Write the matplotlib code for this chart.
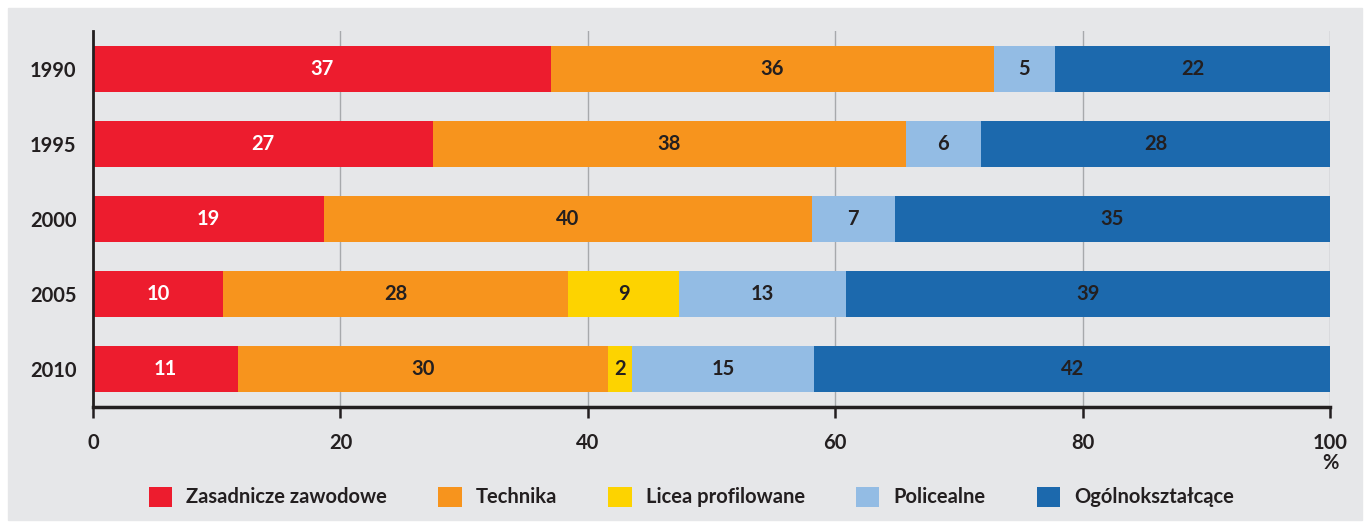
import matplotlib.pyplot as plt
from matplotlib.patches import Rectangle, Patch
import numpy as np

# years on the y axis
years = ["1990", "1995", "2000", "2005", "2010"]

# segment widths (percent)
zasadnicze = [37.0, 27.5, 18.7, 10.5, 11.7]
technika = [35.8, 38.2, 39.4, 27.9, 29.9]
licea = [0.0, 0.0, 0.0, 9.0, 2.0]
policealne = [5.0, 6.1, 6.7, 13.5, 14.7]
ogolno = [22.2, 28.2, 35.2, 39.1, 41.7]

# labels as printed on the bars
zasadnicze_lbl = ["37", "27", "19", "10", "11"]
technika_lbl = ["36", "38", "40", "28", "30"]
licea_lbl = ["", "", "", "9", "2"]
policealne_lbl = ["5", "6", "7", "13", "15"]
ogolno_lbl = ["22", "28", "35", "39", "42"]

series_names = ["Zasadnicze zawodowe", "Technika", "Licea profilowane",
                "Policealne", "Ogólnokształcące"]
colors = ["#ED1C2E", "#F7941D", "#FDD300", "#93BCE4", "#1C69AD"]
text_colors = ["white", "#231F20", "#231F20", "#231F20", "#231F20"]

BG = "#E6E7E9"
DARK = "#231F20"
FS = 14.5

plt.rcParams["font.family"] = ["Lato", "DejaVu Sans"]
plt.rcParams["font.weight"] = "bold"

fig = plt.figure(figsize=(13.7, 5.24), dpi=100)
# grey panel behind the whole chart
fig.patches.append(Rectangle((8 / 1370, 4 / 524), 1354 / 1370, 512 / 524,
                             transform=fig.transFigure, color=BG, zorder=-10))

ax = fig.add_axes([93 / 1370, 1 - 407 / 524, 1237 / 1370, 376 / 524])
ax.set_facecolor(BG)

y = np.arange(len(years))
values = [zasadnicze, technika, licea, policealne, ogolno]
labels = [zasadnicze_lbl, technika_lbl, licea_lbl, policealne_lbl, ogolno_lbl]

left = np.zeros(len(years))
for vals, lbls, col, tcol, name in zip(values, labels, colors, text_colors, series_names):
    vals = np.array(vals)
    ax.barh(y, vals, left=left, height=0.61, color=col, label=name, zorder=3)
    for yi, (l, v, t) in enumerate(zip(left, vals, lbls)):
        if t:
            ax.text(l + v / 2, yi, t, ha="center", va="center",
                    color=tcol, fontsize=FS, fontweight="bold", zorder=4)
    left += vals

ax.set_xlim(0, 100)
ax.set_ylim(4.5, -0.5)
ax.set_yticks(y)
ax.set_yticklabels(years, fontsize=FS, fontweight="bold", color=DARK)
ax.tick_params(axis="y", length=0, pad=12)
ax.set_xticks([0, 20, 40, 60, 80, 100])
ax.tick_params(axis="x", length=8, width=1.8, color=DARK, labelsize=FS,
               labelcolor=DARK, pad=11)
for lab in ax.get_xticklabels():
    lab.set_fontweight("bold")

ax.grid(axis="x", color="#A7A9AC", linewidth=1, zorder=0)
for side in ["top", "right"]:
    ax.spines[side].set_visible(False)
ax.spines["left"].set_color(DARK)
ax.spines["left"].set_linewidth(2)
ax.spines["bottom"].set_color(DARK)
ax.spines["bottom"].set_linewidth(2.5)
ax.spines["left"].set_zorder(5)

ax.text(100, -0.15, "%", transform=ax.get_xaxis_transform(), ha="center",
        va="center", fontsize=FS, fontweight="bold", color=DARK)

handles = [Patch(facecolor=c, edgecolor="none") for c in colors]
leg = fig.legend(handles, series_names, loc="center", ncol=5,
                 bbox_to_anchor=(691.5 / 1370, 1 - 497 / 524),
                 frameon=False, fontsize=FS, handlelength=1.15,
                 handleheight=1.15, handletextpad=0.7, columnspacing=2.55)
for t in leg.get_texts():
    t.set_color(DARK)
    t.set_fontweight("bold")

fig.savefig("out.png", dpi=100, facecolor="white")
